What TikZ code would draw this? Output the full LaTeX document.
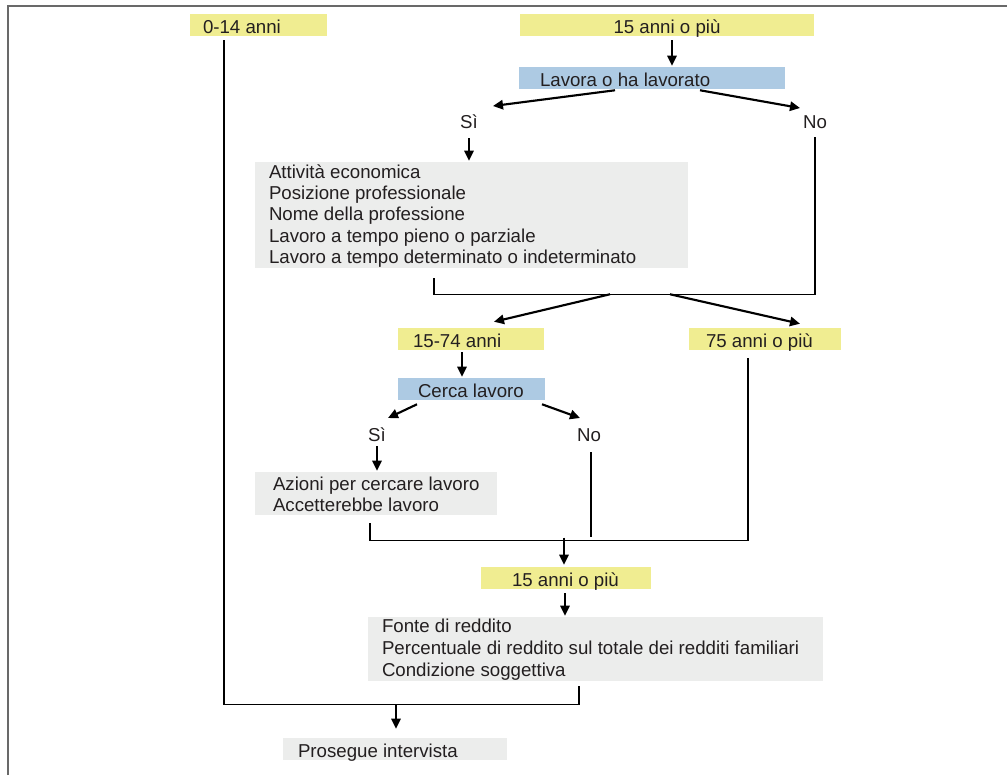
\documentclass[tikz,border=0pt]{standalone}
\usepackage{fontspec}
\setmainfont{Liberation Sans}
\usetikzlibrary{arrows.meta,calc}
\definecolor{ylw}{RGB}{240,237,145}
\definecolor{blu}{RGB}{173,202,227}
\definecolor{gry}{RGB}{236,237,236}
\definecolor{txt}{RGB}{35,31,32}
\definecolor{frm}{RGB}{105,105,105}
\begin{document}
\begin{tikzpicture}[x=0.75pt,y=-0.75pt,
  font=\fontsize{14}{16}\selectfont, text=txt,
  box/.style={inner sep=0pt, minimum height=16.5pt},
  ybox/.style={box, fill=ylw},
  bbox/.style={box, fill=blu},
  gbox/.style={box, fill=gry},
  one/.style={text height=12.5pt, text depth=0.5pt},
  lbl/.style={anchor=west, inner sep=0pt, align=left},
  word/.style={inner sep=0pt, one},
  arr/.style={-{Triangle[length=7.5pt,width=7pt]}, line width=1.6pt, draw=black},
  ln/.style={line width=1pt, draw=black},
  frame/.style={line width=1.5pt, draw=frm}]
\useasboundingbox (0,0) rectangle (1007,775);
\draw[frame] (8,775) -- (8,6) -- (1007,6);

% boxes
\node[ybox, minimum width=102.75pt] (n1) at (258.5,25) {};
\node[lbl, one] (n1t) at ($(n1.west)+(13,0)$) {0-14 anni};
\node[ybox, minimum width=220.5pt, one] (n2) at (667,25) {15 anni o più};
\node[bbox, minimum width=199.5pt] (n3) at (652,78) {};
\node[lbl, one] (n3t) at ($(n3.west)+(21,0)$) {Lavora o ha lavorato};
\node[word] (si1) at (469,120) {Sì};
\node[word] (no1) at (815,120) {No};
\node[gbox, minimum width=324.75pt, minimum height=79.5pt] (b1) at (471.5,215) {};
\node[lbl] (b1t) at ($(b1.west)+(14,1)$) {Attività economica\\Posizione professionale\\Nome della professione\\Lavoro a tempo pieno o parziale\\Lavoro a tempo determinato o indeterminato};
\node[ybox, minimum width=109.5pt] (n7) at (471,339) {};
\node[lbl, one] (n7t) at ($(n7.west)+(15,0)$) {15-74 anni};
\node[ybox, minimum width=114pt] (n8) at (765,339) {};
\node[lbl, one] (n8t) at ($(n8.west)+(17,0)$) {75 anni o più};
\node[bbox, minimum width=110.25pt] (n9) at (471.5,389) {};
\node[lbl, one] (n9t) at ($(n9.west)+(20,0)$) {Cerca lavoro};
\node[word] (si2) at (377,433.5) {Sì};
\node[word] (no2) at (589,433.5) {No};
\node[gbox, minimum width=181.5pt, minimum height=32.25pt] (b2) at (376,493.5) {};
\node[lbl] (b2t) at ($(b2.west)+(18,1)$) {Azioni per cercare lavoro\\Accetterebbe lavoro};
\node[ybox, minimum width=127.5pt] (n12) at (566,578) {};
\node[lbl, one] (n12t) at ($(n12.west)+(31,0)$) {15 anni o più};
\node[gbox, minimum width=341.25pt, minimum height=48pt] (b3) at (595.5,649) {};
\node[lbl, font=\fontsize{14}{16.5}\selectfont] (b3t) at ($(b3.west)+(14,1)$) {Fonte di reddito\\Percentuale di reddito sul totale dei redditi familiari\\Condizione soggettiva};
\node[gbox, minimum width=168pt] (n13) at (395,749) {};
\node[lbl, one] (n13t) at ($(n13.west)+(15,0)$) {Prosegue intervista};

% connectors
\draw[arr] ($(n2.south)+(5,4)$) -- ($(n3.north)+(20,-1)$);
\draw[arr] ($(n3.south)+(-37,1)$) -- ($(si1)+(24,-14)$);
\draw[arr] ($(n3.south)+(48,1)$) -- ($(no1)+(-15,-12)$);
\draw[arr] ($(si1)+(0,18)$) -- ($(b1.north -| si1)+(0,-1)$);
\draw[ln] ($(no1)+(0,17)$) |- ($(b1.south)+(-37.5,26)$) -- ($(b1.south)+(-37.5,10)$);
\draw[arr] ($(b1.south)+(138.5,26)$) -- ($(n7.north)+(23,-6)$);
\draw[arr] ($(b1.south)+(198.5,26)$) -- ($(n8.north)+(35,-4)$);
\draw[arr] ($(n7.south)+(-9,2)$) -- ($(n9.north)+(-9.5,-1)$);
\draw[arr] ($(n9.south)+(-54.5,4)$) -- ($(si2)+(11,-15.5)$);
\draw[arr] ($(n9.south)+(70.5,4)$) -- ($(no2)+(-9,-15.5)$);
\draw[arr] ($(si2)+(0,12.5)$) -- ($(b2.north -| si2)+(0,-1)$);
\draw[ln] ($(no2)+(2,18.5)$) -- ($(no2)+(2,103.5)$);
\draw[ln] ($(b2.south)+(-6,8)$) |- ($(n8.south)+(-17,190)$) -- ($(n8.south)+(-17,8)$);
\draw[arr] ($(n12.north)+(-2,-29)$) -- ($(n12.north)+(-2,-2)$);
\draw[arr] ($(n12.south)+(-1,4)$) -- ($(b3.north)+(-30.5,-1)$);
\draw[ln] ($(n1.south)+(-34.5,4)$) |- ($(b3.south)+(-16.5,23)$) -- ($(b3.south)+(-16.5,5)$);
\draw[arr] ($(b3.south)+(-199.5,23)$) -- ($(n13.north)+(1,-9)$);
\end{tikzpicture}
\end{document}
